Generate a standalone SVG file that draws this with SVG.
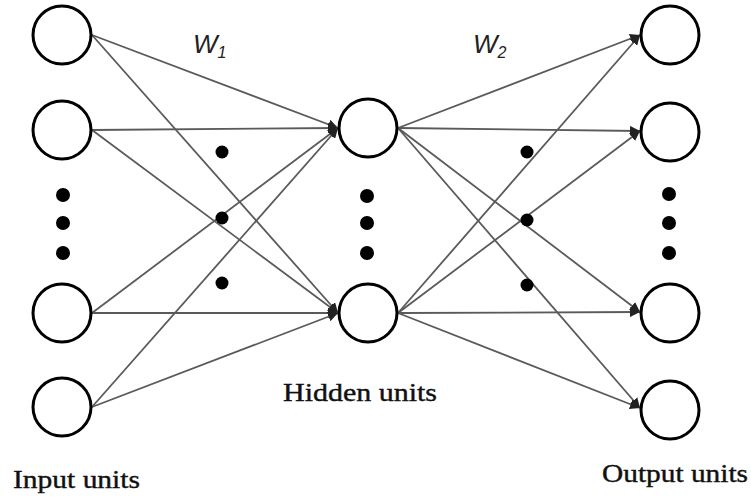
<svg xmlns="http://www.w3.org/2000/svg" width="751" height="499" viewBox="0 0 751 499">
<style>
.node{fill:#fff;stroke:#000;stroke-width:3}
.dot{fill:#000}
.conn line{stroke:#5a5a5a;stroke-width:1.8;fill:none}
.arr{marker-end:url(#ah)}
.lbl{font-family:"Liberation Serif","DejaVu Serif",serif;font-size:25px;fill:#111;stroke:#111;stroke-width:0.4}
.w{font-family:"Liberation Sans","DejaVu Sans",sans-serif;font-style:italic;fill:#222}
</style>
<defs>
<marker id="ah" markerUnits="userSpaceOnUse" markerWidth="12" markerHeight="10" refX="10" refY="5" orient="auto">
<path d="M0,0 L10,5 L0,10 z" fill="#222"/>
</marker>
</defs>
<g id="connectors" class="conn">
<line x1="92" y1="35" x2="338" y2="128" class="arr"/>
<line x1="92" y1="35" x2="338" y2="313" class="arr"/>
<line x1="92" y1="130" x2="338" y2="128" class="arr"/>
<line x1="92" y1="130" x2="338" y2="313" class="arr"/>
<line x1="92" y1="313" x2="338" y2="128" class="arr"/>
<line x1="92" y1="313" x2="338" y2="313" class="arr"/>
<line x1="92" y1="407" x2="338" y2="128" class="arr"/>
<line x1="92" y1="407" x2="338" y2="313" class="arr"/>
<line x1="398" y1="128" x2="640" y2="35" class="arr"/>
<line x1="398" y1="128" x2="640" y2="131" class="arr"/>
<line x1="398" y1="128" x2="640" y2="312" class="arr"/>
<line x1="398" y1="128" x2="640" y2="408" class="arr"/>
<line x1="398" y1="313" x2="640" y2="35" class="arr"/>
<line x1="398" y1="313" x2="640" y2="131" class="arr"/>
<line x1="398" y1="313" x2="640" y2="312" class="arr"/>
<line x1="398" y1="313" x2="640" y2="408" class="arr"/>
</g>
<g id="input1"><circle class="node" cx="62" cy="35" r="29"/></g>
<g id="input2"><circle class="node" cx="62" cy="130" r="29"/></g>
<g id="input3"><circle class="node" cx="62" cy="313" r="29"/></g>
<g id="input4"><circle class="node" cx="62" cy="407" r="29"/></g>
<g id="hidden1"><circle class="node" cx="368" cy="128" r="29"/></g>
<g id="hidden2"><circle class="node" cx="368" cy="313" r="29"/></g>
<g id="output1"><circle class="node" cx="670" cy="35" r="29"/></g>
<g id="output2"><circle class="node" cx="670" cy="132" r="29"/></g>
<g id="output3"><circle class="node" cx="670" cy="313" r="29"/></g>
<g id="output4"><circle class="node" cx="670" cy="410" r="29"/></g>
<g id="dots">
<circle class="dot" cx="63" cy="195" r="7"/>
<circle class="dot" cx="63" cy="223" r="7"/>
<circle class="dot" cx="63" cy="253" r="7"/>
<circle class="dot" cx="367" cy="196" r="7"/>
<circle class="dot" cx="367" cy="223" r="7"/>
<circle class="dot" cx="367" cy="253" r="7"/>
<circle class="dot" cx="669" cy="194" r="7"/>
<circle class="dot" cx="669" cy="223" r="7"/>
<circle class="dot" cx="669" cy="253" r="7"/>
<circle class="dot" cx="222" cy="152" r="6.5"/>
<circle class="dot" cx="222" cy="218" r="6.5"/>
<circle class="dot" cx="222" cy="283" r="6.5"/>
<circle class="dot" cx="527" cy="152" r="6.5"/>
<circle class="dot" cx="527" cy="220" r="6.5"/>
<circle class="dot" cx="527" cy="285" r="6.5"/>
</g>
<g id="weights">
<text class="w" x="193" y="53" font-size="26">W<tspan font-size="16" dy="5">1</tspan></text>
<text class="w" x="473" y="53" font-size="26">W<tspan font-size="16" dy="5">2</tspan></text>
</g>
<g id="labels">
<text class="lbl" x="13" y="488" textLength="127" lengthAdjust="spacingAndGlyphs">Input units</text>
<text class="lbl" x="283" y="401" textLength="154" lengthAdjust="spacingAndGlyphs">Hidden units</text>
<text class="lbl" x="602" y="482" textLength="146" lengthAdjust="spacingAndGlyphs">Output units</text>
</g>
</svg>
